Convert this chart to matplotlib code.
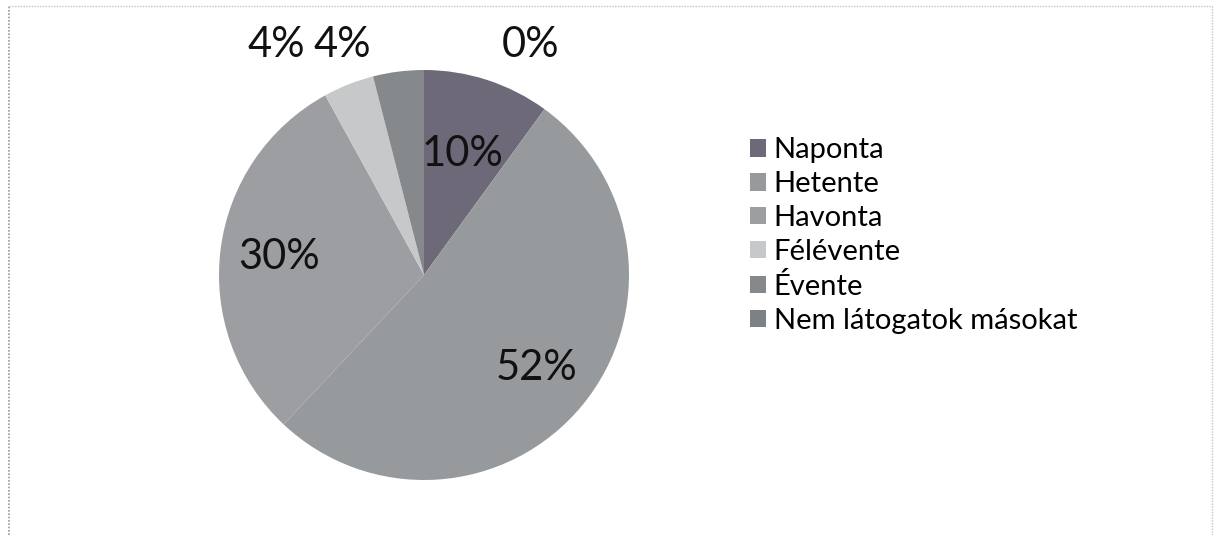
import matplotlib.pyplot as plt
from matplotlib.lines import Line2D

categories = ["Naponta", "Hetente", "Havonta", "Félévente", "Évente", "Nem látogatok másokat"]
values = [10, 52, 30, 4, 4, 0]
colors = ["#6e6978", "#979a9d", "#9c9ea1", "#c6c8ca", "#85898b", "#7e8184"]

# outside label spots for the small slices (data units, pie radius = 1)
outside_pos = {3: (-0.72, 1.12), 4: (-0.40, 1.12), 5: (0.52, 1.12)}

plt.rcParams['font.family'] = ['Lato', 'DejaVu Sans']

fig = plt.figure(figsize=(12.18, 5.35), dpi=100)

# chart border, dotted grey
fig.add_artist(Line2D([9/1218, 9/1218], [0, 1 - 6/535], transform=fig.transFigure,
                      color="#9a9a9a", lw=1.2, ls=(0, (1, 1))))
fig.add_artist(Line2D([9/1218, 1212/1218], [1 - 6/535, 1 - 6/535], transform=fig.transFigure,
                      color="#c4c4c4", lw=1, ls=(0, (1, 1))))
fig.add_artist(Line2D([1212/1218, 1212/1218], [0, 1 - 6/535], transform=fig.transFigure,
                      color="#c4c4c4", lw=1, ls=(0, (1, 1))))

ax = fig.add_axes([(424 - 205) / 1218, 55 / 535, 410 / 1218, 410 / 535])
wedges, texts, autotexts = ax.pie(values, colors=colors, startangle=90, counterclock=False,
                                  autopct=lambda p: f"{p:.0f}%", pctdistance=0.71,
                                  wedgeprops=dict(linewidth=0),
                                  textprops=dict(fontsize=30, color="#111111"))
ax.set_xlim(-1, 1)
ax.set_ylim(-1, 1)
ax.set_aspect("equal")

autotexts[0].set_position((0.19, 0.59))
for i, pos in outside_pos.items():
    autotexts[i].set_position(pos)
    autotexts[i].set_clip_on(False)

leg = fig.legend(wedges, categories, loc="upper left", bbox_to_anchor=(724 / 1218, 1 - 111 / 535),
                 frameon=False, fontsize=21, handlelength=0.55, handleheight=0.55,
                 handletextpad=0.25, labelspacing=0.27)

fig.savefig("out.png", dpi=100, facecolor="white")
